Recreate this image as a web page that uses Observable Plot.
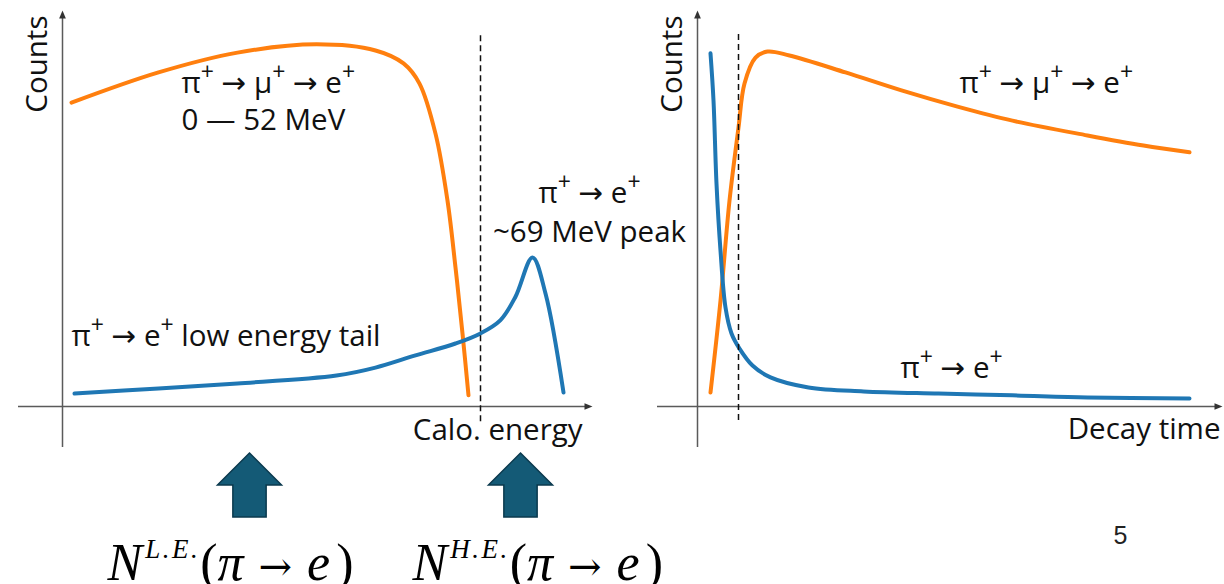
<!DOCTYPE html>
<html>
<head>
<meta charset="utf-8">
<script src="https://cdn.jsdelivr.net/npm/d3@7"></script>
<script src="https://cdn.jsdelivr.net/npm/@observablehq/plot@0.6"></script>
<style>
  html, body { margin: 0; padding: 0; background: #ffffff; }
  #chart { position: relative; width: 1224px; height: 584px; overflow: hidden; background: #ffffff; }
  #chart > svg { position: absolute; top: 0; }
</style>
</head>
<body>
<div id="chart"></div>
<script>
// ---------------- Data (arbitrary schematic units) ----------------
// Left panel: calorimeter energy spectrum
const pimueEnergy = [1.8, 19.2, 35, 50.8, 62.6, 68.2, 71.4, 74.6, 77, 78.6, 80, 81.2];
const pimueCountsE = [84.4, 92.8, 98.3, 100.6, 98.9, 95.3, 89.7, 75.8, 57.2, 38.6, 20.3, 3.1];
const pieEnergy = [2.4, 19.2, 35, 54.8, 62.6, 70.6, 78.6, 83.6, 87.6, 90.6, 94, 96.6, 100.2];
const pieCountsE = [3.6, 5, 6.4, 8.6, 10.8, 14.2, 17.5, 20.3, 24, 30.5, 41.4, 31.4, 3.9];
const energyCut = 83.6;

// Right panel: decay time spectrum
const pimueTime = [2.6, 4.6, 6.4, 8.2, 9.4, 11.6, 14, 18.4, 29.6, 40.8, 52, 63, 78, 89.2, 98.4];
const pimueCountsT = [3.9, 29.4, 57.2, 77.5, 89.7, 96.9, 98.6, 97.5, 92.8, 87.8, 83.3, 79.4, 75.3, 72.5, 70.6];
const pieTime = [2.6, 3.2, 3.8, 4.6, 5.6, 6.8, 8.4, 11, 14.6, 22.2, 33.2, 48.2, 63, 78, 98.4];
const pieCountsT = [98.1, 85, 61.9, 43.3, 27.5, 20.3, 16.1, 11.4, 8.1, 5.3, 4.2, 3.6, 3.1, 2.5, 2.2];
const timeCut = 8.2;

// Text labels
const leftAxisLabels = ["Counts", "Calo. energy"];
const rightAxisLabels = ["Counts", "Decay time"];
const pimueLabelE = "π⁺ → μ⁺ → e⁺\n0 — 52 MeV";
const pieLabelE = "π⁺ → e⁺\n~69 MeV peak";
const tailLabelE = "π⁺ → e⁺ low energy tail";
const pimueLabelT = "π⁺ → μ⁺ → e⁺";
const pieLabelT = "π⁺ → e⁺";
const regionEnergies = [37.4, 91.6];           // arrows: low-energy and high-energy regions
const regionFormulas = ["N{L.E.}(π → e)", "N{H.E.}(π → e)"];
const formulaStart = [9, 70];
const pageNumber = "5";

// ---------------- Helpers ----------------
const ORANGE = "#ff7f0e", BLUE = "#1f77b4", AXIS = "#5a5a5a", INK = "#111111";
const FONT = "'Open Sans', 'Noto Sans', 'DejaVu Sans', sans-serif";
const FS = 29.5;
const yDomain = [-49.44, 112.78];
const pairs = (xs, ys) => xs.map((x, i) => ({x, y: ys[i]}));

const tipUp = {draw(ctx, size) { const r = Math.sqrt(size / Math.PI);
  ctx.moveTo(0, 0); ctx.lineTo(0.42 * r, r); ctx.lineTo(-0.42 * r, r); ctx.closePath(); }};
const tipRight = {draw(ctx, size) { const r = Math.sqrt(size / Math.PI);
  ctx.moveTo(0, 0); ctx.lineTo(-r, -0.42 * r); ctx.lineTo(-r, 0.42 * r); ctx.closePath(); }};
const blockArrow = {draw(ctx, size) { const r = Math.sqrt(size / Math.PI), w = 0.52 * r;
  ctx.moveTo(0, -r); ctx.lineTo(r, 0); ctx.lineTo(w, 0); ctx.lineTo(w, r);
  ctx.lineTo(-w, r); ctx.lineTo(-w, 0); ctx.lineTo(-r, 0); ctx.closePath(); }};

function axesMarks(xFrom, xTo, yFrom, yTo) {
  return [
    Plot.ruleY([0], {x1: xFrom, x2: xTo - 1, stroke: AXIS, strokeWidth: 1.5}),
    Plot.ruleX([0], {y1: yFrom, y2: yTo - 2, stroke: AXIS, strokeWidth: 1.5}),
    Plot.dot([{x: xTo, y: 0}], {x: "x", y: "y", symbol: tipRight, r: 8, fill: "#333", stroke: "none"}),
    Plot.dot([{x: 0, y: yTo}], {x: "x", y: "y", symbol: tipUp, r: 8, fill: "#333", stroke: "none"})
  ];
}

const NS = "http://www.w3.org/2000/svg";
function supify(root) {
  root.querySelectorAll("text").forEach(t => {
    const spans = [...t.querySelectorAll("tspan")];
    const leaves = spans.length ? spans : [t];
    leaves.forEach(el => {
      const s = el.textContent;
      if (!s.includes("⁺")) return;
      el.textContent = "";
      const parts = s.split("⁺");
      parts.forEach((part, i) => {
        if (part) el.appendChild(document.createTextNode(part));
        if (i < parts.length - 1) {
          const sp = document.createElementNS(NS, "tspan");
          sp.setAttribute("baseline-shift", "13px");
          sp.setAttribute("font-size", "23");
          sp.textContent = "+";
          el.appendChild(sp);
        }
      });
    });
  });
}
function mathify(root) {
  root.querySelectorAll("text").forEach(t => {
    const s = t.textContent;
    if (!s.includes("{")) return;
    t.textContent = "";
    const re = /\{([^}]*)\}|([A-Za-zπ])|(→)|([^A-Za-zπ{→]+)/g;
    let m, pending = 0;
    while ((m = re.exec(s))) {
      const sp = document.createElementNS(NS, "tspan");
      if (m[1] !== undefined) {
        sp.textContent = m[1];
        sp.setAttribute("font-style", "italic");
        sp.setAttribute("font-size", "27");
        sp.setAttribute("letter-spacing", "2.5");
        sp.setAttribute("dy", "-22");
        sp.setAttribute("dx", "3");
        pending = 22;
      } else {
        const isLetter = m[2] !== undefined;
        sp.textContent = m[2] ?? m[3] ?? m[4];
        sp.setAttribute("font-style", isLetter ? "italic" : "normal");
        if (m[3] !== undefined) {
          sp.setAttribute("font-family", "'DejaVu Serif', serif");
          sp.setAttribute("font-size", "40");
        }
        if (sp.textContent === ")") sp.setAttribute("dx", "6");
        if (sp.textContent === " ") sp.setAttribute("dx", "2");
        if (pending) { sp.setAttribute("dy", String(pending)); pending = 0; }
      }
      t.appendChild(sp);
    }
  });
}

// ---------------- Left panel ----------------
const left = Plot.plot({
  width: 700, height: 584, margin: 0,
  x: {domain: [-12.4, 127.6], axis: null},
  y: {domain: yDomain, axis: null},
  style: {background: "transparent", overflow: "visible", fontFamily: FONT},
  marks: [
    ...axesMarks(-8.8, 106, -11.4, 110),
    Plot.line(pairs(pimueEnergy, pimueCountsE), {x: "x", y: "y", stroke: ORANGE, strokeWidth: 4, curve: "catmull-rom"}),
    Plot.line(pairs(pieEnergy, pieCountsE), {x: "x", y: "y", stroke: BLUE, strokeWidth: 4, curve: "catmull-rom"}),
    Plot.ruleX([energyCut], {y1: -4.2, y2: 103.6, stroke: INK, strokeWidth: 1.5, strokeDasharray: "6,4"}),
    Plot.text([leftAxisLabels[0]], {x: -3.1, y: 108.6, text: d => d, rotate: -90, textAnchor: "end", lineAnchor: "bottom", fontSize: FS, fill: INK}),
    Plot.text([leftAxisLabels[1]], {x: 104, y: -9.2, text: d => d, textAnchor: "end", lineAnchor: "bottom", fontSize: FS, fill: INK}),
    Plot.text([pimueLabelE], {x: 23.8, y: 76.7, text: d => d, textAnchor: "start", lineAnchor: "bottom", lineHeight: 1.27, fontSize: FS, fill: INK}),
    Plot.text([pieLabelE], {x: 105.4, y: 45.6, text: d => d, textAnchor: "middle", lineAnchor: "bottom", lineHeight: 1.32, fontSize: FS, fill: INK}),
    Plot.text([tailLabelE], {x: 1.8, y: 16.7, text: d => d, textAnchor: "start", lineAnchor: "bottom", fontSize: FS, fill: INK}),
    Plot.dot(regionEnergies, {x: d => d, y: -21.8, symbol: blockArrow, r: 32, fill: "#145a76", stroke: "#0b3a4e", strokeWidth: 1.5}),
    Plot.text(regionFormulas, {x: (d, i) => formulaStart[i], y: -48.3, text: d => d, textAnchor: "start", lineAnchor: "bottom",
      fontFamily: "'Liberation Serif', 'DejaVu Serif', serif", fontSize: 52, fill: "#000"})
  ]
});
left.style.left = "0px";

// ---------------- Right panel ----------------
const right = Plot.plot({
  width: 604, height: 584, margin: 0,
  x: {domain: [-15.4, 105.4], axis: null},
  y: {domain: yDomain, axis: null},
  style: {background: "transparent", overflow: "visible", fontFamily: FONT},
  marks: [
    ...axesMarks(-8, 105, -11.4, 110),
    Plot.line(pairs(pimueTime, pimueCountsT), {x: "x", y: "y", stroke: ORANGE, strokeWidth: 4, curve: "catmull-rom"}),
    Plot.line(pairs(pieTime, pieCountsT), {x: "x", y: "y", stroke: BLUE, strokeWidth: 4, curve: "catmull-rom"}),
    Plot.ruleX([timeCut], {y1: -3.9, y2: 103.6, stroke: INK, strokeWidth: 1.5, strokeDasharray: "6,4"}),
    Plot.text([rightAxisLabels[0]], {x: -3.1, y: 108.6, text: d => d, rotate: -90, textAnchor: "end", lineAnchor: "bottom", fontSize: FS, fill: INK}),
    Plot.text([rightAxisLabels[1]], {x: 104.6, y: -8.9, text: d => d, textAnchor: "end", lineAnchor: "bottom", fontSize: FS, fill: INK}),
    Plot.text([pimueLabelT], {x: 52.4, y: 87.2, text: d => d, textAnchor: "start", lineAnchor: "bottom", fontSize: FS, fill: INK}),
    Plot.text([pieLabelT], {x: 40.6, y: 7.8, text: d => d, textAnchor: "start", lineAnchor: "bottom", fontSize: FS, fill: INK}),
    Plot.text([pageNumber], {x: 83.2, y: -38.3, text: d => d, textAnchor: "start", lineAnchor: "bottom",
      fontFamily: "'Liberation Sans', Arial, sans-serif", fontSize: 25, fill: "#222"})
  ]
});
right.style.left = "620px";

supify(left); supify(right); mathify(left);
const chart = document.getElementById("chart");
chart.appendChild(left);
chart.appendChild(right);
</script>
</body>
</html>
